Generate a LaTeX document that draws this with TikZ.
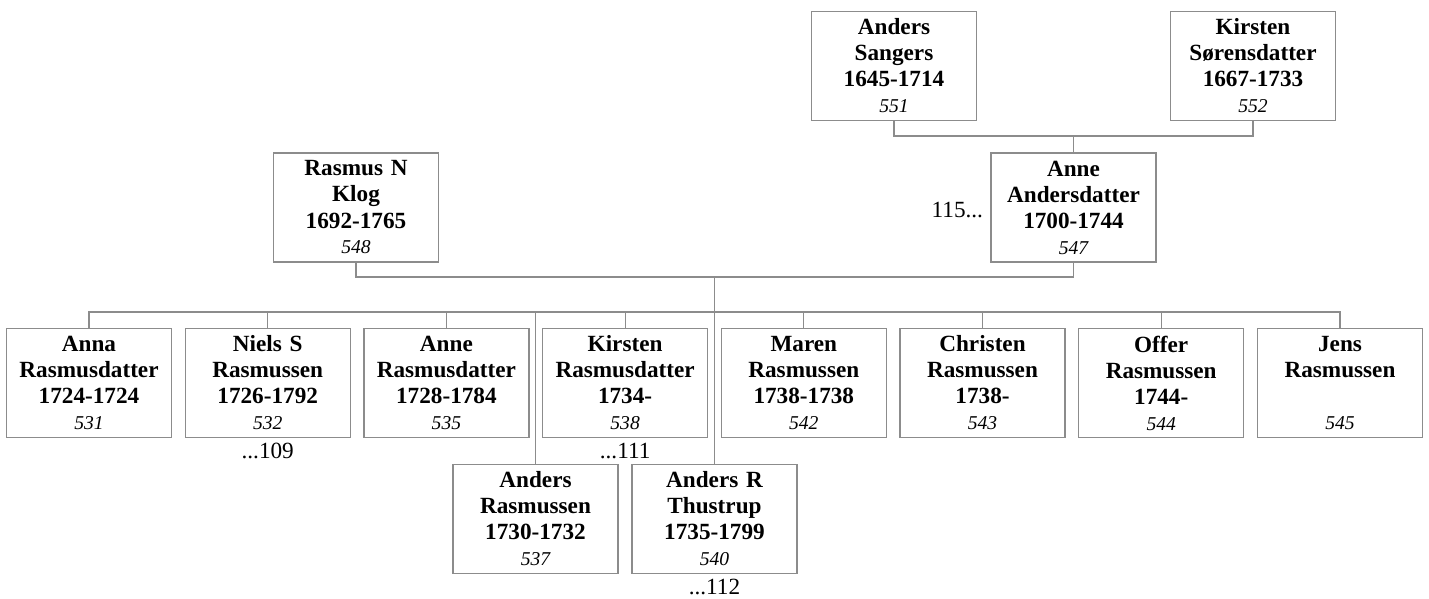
\documentclass[tikz,border=0pt]{standalone}
\usepackage{fontspec}
\setmainfont{Liberation Serif}
\usepackage{tikz}
\definecolor{linegray}{HTML}{8C8C8C}
\newcommand{\pers}[4]{#1\\#2\\#3\\{\mdseries\itshape\fontsize{9.8}{13}\selectfont #4}}

\begin{document}
\begin{tikzpicture}[x=0.5pt,y=-0.5pt,
  pbox/.style={draw=linegray,line width=0.6pt,minimum width=82.5pt,minimum height=54.5pt,inner sep=0pt,text width=80pt,align=center,font=\fontsize{11.6}{13}\selectfont\bfseries},
  link/.style={draw=linegray,line width=0.6pt},
  ref/.style={font=\fontsize{11.6}{13}\selectfont,inner sep=2.5pt}]
  \useasboundingbox (0,0) rectangle (1429,599);
  \node[pbox] (p551) at (894,66) {\pers{Anders}{Sangers}{1645-1714}{551}};
  \node[pbox] (p552) at (1253,66) {\pers{Kirsten}{Sørensdatter}{1667-1733}{552}};
  \node[pbox] (p548) at (356,207.5) {\pers{Rasmus N}{Klog}{1692-1765}{548}};
  \node[pbox] (p547) at (1073.5,207.5) {\pers{Anne}{Andersdatter}{1700-1744}{547}};
  \node[pbox] (p531) at (89,383) {\pers{Anna}{Rasmusdatter}{1724-1724}{531}};
  \node[pbox] (p532) at (267.7,383) {\pers{Niels S}{Rasmussen}{1726-1792}{532}};
  \node[pbox] (p535) at (446.4,383) {\pers{Anne}{Rasmusdatter}{1728-1784}{535}};
  \node[pbox] (p538) at (625.1,383) {\pers{Kirsten}{Rasmusdatter}{1734-}{538}};
  \node[pbox] (p542) at (803.8,383) {\pers{Maren}{Rasmussen}{1738-1738}{542}};
  \node[pbox] (p543) at (982.5,383) {\pers{Christen}{Rasmussen}{1738-}{543}};
  \node[pbox] (p544) at (1161.2,383) {\pers{Offer}{Rasmussen}{1744-}{544}};
  \node[pbox] (p545) at (1340,383) {\pers{Jens}{Rasmussen}{\strut}{545}};
  \node[pbox] (p537) at (535.5,519) {\pers{Anders}{Rasmussen}{1730-1732}{537}};
  \node[pbox] (p540) at (714.5,519) {\pers{Anders R}{Thustrup}{1735-1799}{540}};

  \node[ref,anchor=east,inner xsep=3.5pt] (l115) at ([yshift=-1.2pt]p547.west) {115...};
  \node[ref,anchor=north] (l109) at (p532.south) {...109};
  \node[ref,anchor=north] (l111) at (p538.south) {...111};
  \node[ref,anchor=north] (l112) at (p540.south) {...112};

  \coordinate (top) at (1073.5,136);
  \coordinate (mid) at (714.5,277);
  \coordinate (bus) at (714.5,312);
  \draw[link] (p551.south) |- (top) -| (p552.south);
  \draw[link] (top) -- (p547.north);
  \draw[link] (p548.south) |- (mid) -| (p547.south);
  \draw[link] (mid) -- (p540.north);
  \draw[link] (p531.north) |- (bus) -| (p545.north);
  \draw[link] (p532.north) -- (p532.north |- bus);
  \draw[link] (p535.north) -- (p535.north |- bus);
  \draw[link] (p538.north) -- (p538.north |- bus);
  \draw[link] (p542.north) -- (p542.north |- bus);
  \draw[link] (p543.north) -- (p543.north |- bus);
  \draw[link] (p544.north) -- (p544.north |- bus);
  \draw[link] (p537.north) -- (p537.north |- bus);
\end{tikzpicture}
\end{document}
